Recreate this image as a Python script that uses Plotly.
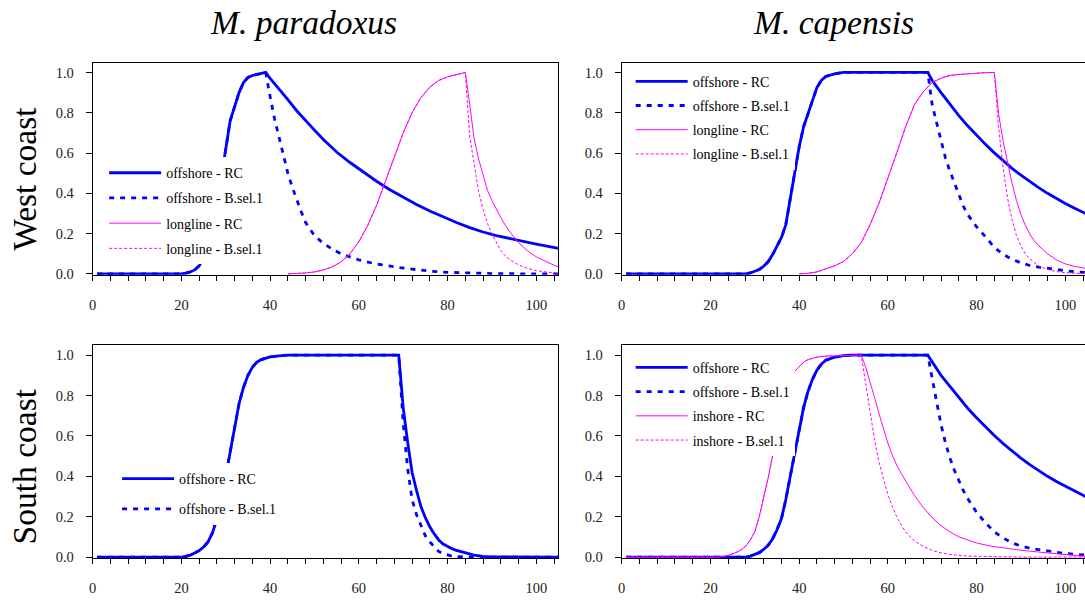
import plotly.graph_objects as go

# ---------------- data (age, selectivity) ----------------
# West coast, M. paradoxus
wp_off_rise_age = [1, 20, 21, 22, 23, 24, 25, 26, 27, 28, 29, 30, 31, 32, 33, 34, 35, 36, 37, 38, 39]
wp_off_rise = [0, 0, 0.004, 0.01, 0.02, 0.04, 0.08, 0.15, 0.25, 0.36, 0.48, 0.62, 0.76, 0.83, 0.9, 0.95, 0.975, 0.985, 0.99, 0.995, 1.0]
wp_off_rc_tail_age = [40, 42, 44, 46, 48, 50, 52, 55, 58, 61, 64, 67, 70, 73, 76, 79, 82, 85, 88, 91, 94, 97, 100, 103, 105]
wp_off_rc_tail = [0.97, 0.92, 0.865, 0.81, 0.76, 0.714, 0.667, 0.605, 0.553, 0.505, 0.46, 0.418, 0.38, 0.345, 0.312, 0.283, 0.255, 0.23, 0.208, 0.19, 0.175, 0.16, 0.148, 0.135, 0.127]
wp_off_b_tail_age = [40, 41, 42, 43, 44, 45, 46, 47, 48, 50, 52, 54, 56, 58, 60, 63, 66, 69, 72, 76, 80, 84, 90, 95, 105]
wp_off_b_tail = [0.88, 0.77, 0.68, 0.59, 0.5, 0.43, 0.365, 0.31, 0.255, 0.19, 0.152, 0.123, 0.1, 0.083, 0.07, 0.054, 0.042, 0.032, 0.024, 0.014, 0.008, 0.005, 0.002, 0.001, 0.0]
wp_ll_rise_age = [44, 46, 48, 50, 52, 54, 56, 58, 60, 62, 64, 66, 68, 70, 72, 74, 76, 78, 80, 82, 84]
wp_ll_rise = [0, 0.002, 0.005, 0.01, 0.02, 0.035, 0.06, 0.1, 0.16, 0.24, 0.34, 0.46, 0.58, 0.7, 0.8, 0.875, 0.927, 0.96, 0.978, 0.99, 1.0]
wp_ll_tail_age = [85, 86, 87, 88, 89, 90, 91, 92, 93, 94, 96, 98, 100, 102, 104, 105]
wp_ll_rc_tail = [0.84, 0.67, 0.57, 0.485, 0.415, 0.364, 0.32, 0.28, 0.242, 0.21, 0.155, 0.115, 0.085, 0.062, 0.043, 0.036]
wp_ll_b_tail = [0.68, 0.54, 0.41, 0.32, 0.25, 0.2, 0.155, 0.115, 0.09, 0.072, 0.045, 0.028, 0.016, 0.009, 0.005, 0.004]

# West coast, M. capensis
wc_off_rise_age = [1, 28, 29, 30, 31, 32, 33, 34, 35, 36, 37, 38, 39, 40, 41, 42, 43, 44, 45, 46, 48, 50, 69]
wc_off_rise = [0, 0, 0.005, 0.012, 0.022, 0.038, 0.06, 0.095, 0.135, 0.18, 0.245, 0.38, 0.5, 0.63, 0.73, 0.795, 0.865, 0.925, 0.96, 0.98, 0.993, 1.0, 1.0]
wc_off_rc_tail_age = [70, 72, 74, 76, 78, 80, 82, 84, 86, 88, 90, 92, 94, 96, 98, 100, 102, 104, 105]
wc_off_rc_tail = [0.96, 0.9, 0.842, 0.786, 0.735, 0.688, 0.643, 0.601, 0.561, 0.524, 0.49, 0.458, 0.428, 0.4, 0.374, 0.35, 0.327, 0.305, 0.295]
wc_off_b_tail_age = [70, 71, 72, 73, 74, 75, 76, 77, 78, 79, 80, 82, 84, 86, 88, 90, 92, 94, 96, 98, 100, 102, 104, 105]
wc_off_b_tail = [0.84, 0.75, 0.66, 0.575, 0.51, 0.45, 0.39, 0.337, 0.295, 0.262, 0.234, 0.185, 0.132, 0.097, 0.073, 0.055, 0.042, 0.034, 0.027, 0.021, 0.016, 0.011, 0.008, 0.007]
wc_ll_rise_age = [40, 42, 44, 46, 48, 50, 52, 54, 56, 58, 60, 62, 64, 66, 68, 70, 72, 74, 76, 78, 80, 82, 84]
wc_ll_rise = [0, 0.003, 0.01, 0.025, 0.04, 0.062, 0.1, 0.155, 0.245, 0.35, 0.47, 0.6, 0.73, 0.84, 0.905, 0.95, 0.972, 0.985, 0.99, 0.994, 0.997, 0.999, 1.0]
wc_ll_tail_age = [85, 86, 87, 88, 89, 90, 91, 92, 93, 94, 96, 98, 100, 102, 104, 105]
wc_ll_rc_tail = [0.79, 0.657, 0.545, 0.45, 0.364, 0.295, 0.242, 0.198, 0.165, 0.14, 0.1, 0.07, 0.05, 0.038, 0.03, 0.026]
wc_ll_b_tail = [0.72, 0.527, 0.375, 0.27, 0.19, 0.14, 0.1, 0.075, 0.055, 0.04, 0.022, 0.012, 0.006, 0.003, 0.001, 0.0]

# South coast, M. paradoxus
sp_off_rise_age = [1, 20, 21, 22, 23, 24, 25, 26, 27, 28, 29, 30, 31, 32, 33, 34, 35, 36, 37, 38, 39, 40, 42, 44, 69]
sp_off_rise = [0, 0, 0.004, 0.01, 0.02, 0.032, 0.05, 0.075, 0.12, 0.19, 0.28, 0.4, 0.53, 0.66, 0.76, 0.84, 0.9, 0.94, 0.965, 0.978, 0.986, 0.991, 0.996, 1.0, 1.0]
sp_off_tail_age = [70, 71, 72, 73, 74, 75, 76, 77, 78, 79, 80, 81, 82, 84, 86, 88, 90, 105]
sp_off_rc_tail = [0.74, 0.57, 0.42, 0.33, 0.25, 0.195, 0.15, 0.115, 0.085, 0.065, 0.052, 0.042, 0.033, 0.02, 0.01, 0.004, 0.001, 0.0]
sp_off_b_tail = [0.66, 0.44, 0.285, 0.21, 0.155, 0.105, 0.075, 0.05, 0.028, 0.017, 0.01, 0.005, 0.003, 0.0, 0.0, 0.0, 0.0, 0.0]

# South coast, M. capensis
sc_off_rise_age = [1, 28, 29, 30, 31, 32, 33, 34, 35, 36, 37, 38, 39, 40, 41, 42, 43, 44, 45, 46, 48, 50, 52, 69]
sc_off_rise = [0, 0, 0.005, 0.012, 0.022, 0.038, 0.058, 0.09, 0.135, 0.19, 0.285, 0.4, 0.515, 0.63, 0.74, 0.82, 0.88, 0.925, 0.955, 0.975, 0.99, 0.998, 1.0, 1.0]
sc_off_rc_tail_age = [70, 72, 74, 76, 78, 80, 82, 84, 86, 88, 90, 92, 94, 96, 98, 100, 102, 104, 105]
sc_off_rc_tail = [0.965, 0.9, 0.845, 0.79, 0.737, 0.69, 0.645, 0.602, 0.562, 0.525, 0.49, 0.458, 0.428, 0.4, 0.374, 0.35, 0.327, 0.306, 0.297]
sc_off_b_tail_age = [70, 71, 72, 73, 74, 75, 76, 77, 78, 79, 80, 82, 84, 86, 88, 90, 92, 94, 96, 98, 100, 102, 104, 105]
sc_off_b_tail = [0.88, 0.77, 0.655, 0.565, 0.49, 0.43, 0.375, 0.33, 0.29, 0.255, 0.222, 0.17, 0.125, 0.095, 0.07, 0.055, 0.044, 0.037, 0.03, 0.024, 0.018, 0.014, 0.011, 0.01]
sc_in_rise_age = [1, 22, 24, 25, 26, 27, 28, 29, 30, 31, 32, 33, 34, 35, 36, 37, 38, 39, 40, 41, 42, 44, 46, 50, 54]
sc_in_rise = [0, 0, 0.008, 0.015, 0.025, 0.037, 0.055, 0.085, 0.125, 0.2, 0.29, 0.39, 0.5, 0.62, 0.73, 0.82, 0.88, 0.92, 0.945, 0.965, 0.978, 0.99, 0.995, 0.998, 1.0]
sc_in_tail_age = [55, 56, 57, 58, 59, 60, 61, 62, 63, 64, 66, 68, 70, 72, 74, 76, 78, 80, 83, 86, 90, 94, 98, 102, 105]
sc_in_rc_tail = [0.94, 0.87, 0.79, 0.71, 0.635, 0.565, 0.505, 0.455, 0.415, 0.38, 0.305, 0.245, 0.195, 0.155, 0.125, 0.1, 0.085, 0.07, 0.055, 0.045, 0.034, 0.025, 0.016, 0.008, 0.003]
sc_in_b_tail = [0.86, 0.71, 0.58, 0.47, 0.385, 0.31, 0.25, 0.2, 0.16, 0.125, 0.08, 0.053, 0.033, 0.021, 0.013, 0.008, 0.005, 0.004, 0.002, 0.001, 0.0, 0.0, 0.0, 0.0, 0.0]

col_titles = ["M. paradoxus", "M. capensis"]
row_titles = ["West coast", "South coast"]
y_ticks = [0, 0.2, 0.4, 0.6, 0.8, 1.0]

BLUE = "#0000FF"
MAG = "#FF00FF"
SERIF = "Liberation Serif, Times New Roman, serif"

styles = {
    "off_rc": dict(color=BLUE, width=2.8, dash="solid"),
    "off_b": dict(color=BLUE, width=2.8, dash="5px,6px"),
    "mag_rc": dict(color=MAG, width=1, dash="solid"),
    "mag_b": dict(color=MAG, width=1, dash="3px,2px"),
}

panels = [
    ("x", "y", "legend", [
        ("offshore - RC", "off_rc", wp_off_rise_age + wp_off_rc_tail_age, wp_off_rise + wp_off_rc_tail),
        ("offshore - B.sel.1", "off_b", wp_off_rise_age + wp_off_b_tail_age, wp_off_rise + wp_off_b_tail),
        ("longline - RC", "mag_rc", wp_ll_rise_age + wp_ll_tail_age, wp_ll_rise + wp_ll_rc_tail),
        ("longline - B.sel.1", "mag_b", wp_ll_rise_age + wp_ll_tail_age, wp_ll_rise + wp_ll_b_tail),
    ]),
    ("x2", "y2", "legend2", [
        ("offshore - RC", "off_rc", wc_off_rise_age + wc_off_rc_tail_age, wc_off_rise + wc_off_rc_tail),
        ("offshore - B.sel.1", "off_b", wc_off_rise_age + wc_off_b_tail_age, wc_off_rise + wc_off_b_tail),
        ("longline - RC", "mag_rc", wc_ll_rise_age + wc_ll_tail_age, wc_ll_rise + wc_ll_rc_tail),
        ("longline - B.sel.1", "mag_b", wc_ll_rise_age + wc_ll_tail_age, wc_ll_rise + wc_ll_b_tail),
    ]),
    ("x3", "y3", "legend3", [
        ("offshore - RC", "off_rc", sp_off_rise_age + sp_off_tail_age, sp_off_rise + sp_off_rc_tail),
        ("offshore - B.sel.1", "off_b", sp_off_rise_age + sp_off_tail_age, sp_off_rise + sp_off_b_tail),
    ]),
    ("x4", "y4", "legend4", [
        ("offshore - RC", "off_rc", sc_off_rise_age + sc_off_rc_tail_age, sc_off_rise + sc_off_rc_tail),
        ("offshore - B.sel.1", "off_b", sc_off_rise_age + sc_off_b_tail_age, sc_off_rise + sc_off_b_tail),
        ("inshore - RC", "mag_rc", sc_in_rise_age + sc_in_tail_age, sc_in_rise + sc_in_rc_tail),
        ("inshore - B.sel.1", "mag_b", sc_in_rise_age + sc_in_tail_age, sc_in_rise + sc_in_b_tail),
    ]),
]

fig = go.Figure()
for pi, (xa, ya, leg, series) in enumerate(panels):
    for si, (name, sty, ages, vals) in enumerate(series):
        fig.add_trace(go.Scatter(
            x=ages, y=vals, mode="lines", name=name,
            line=styles[sty], xaxis=xa, yaxis=ya, legend=leg,
            legendgroup=f"p{pi}s{si}", showlegend=True, hoverinfo="skip"))

W, H = 1085, 600
left_dom = [89 / W, 556.5 / W]
right_dom = [620 / W, 1.0]
top_dom = [1 - 278 / H, 1 - 63.3 / H]
bot_dom = [1 - 564.5 / H, 1 - 349.3 / H]
YR = [-0.004, 1.049]

tickfont = dict(family=SERIF, size=14.5, color="#222222")


def xax(domain, anchor, rng):
    return dict(domain=domain, anchor=anchor, range=rng, showline=True, linecolor="black",
                linewidth=1, mirror=True, ticks="outside", ticklen=5, tickcolor="black",
                tick0=0, dtick=20, showgrid=False, zeroline=False, tickfont=tickfont,
                ticklabelstandoff=12,
                minor=dict(dtick=4, tick0=0, ticks="outside", ticklen=5, tickcolor="black",
                           showgrid=False))


def yax(domain, anchor, mirror):
    return dict(domain=domain, anchor=anchor, range=YR, showline=True, linecolor="black",
                linewidth=1, mirror=mirror, ticks="outside", ticklen=6, tickcolor="black",
                tickvals=y_ticks, tickformat=".1f", showgrid=False, zeroline=False,
                tickfont=tickfont, ticklabelstandoff=9)


def legend(xpx, ypx, gap):
    return dict(x=xpx / W, y=1 - ypx / H, xanchor="left", yanchor="top", bgcolor="white",
                borderwidth=0, font=dict(family=SERIF, size=14, color="black"),
                itemwidth=52, tracegroupgap=gap, traceorder="grouped")


annotations = [
    dict(text=f"<i>{col_titles[0]}</i>", x=301 / W, y=1 - 23 / H),
    dict(text=f"<i>{col_titles[1]}</i>", x=833 / W, y=1 - 23 / H),
    dict(text=row_titles[0], x=21 / W, y=1 - 181 / H, textangle=-90),
    dict(text=row_titles[1], x=21 / W, y=1 - 472 / H, textangle=-90),
]
for a in annotations:
    a.update(xref="paper", yref="paper", showarrow=False, xanchor="center", yanchor="middle",
             font=dict(family=SERIF, size=33.5, color="black"))

fig.update_layout(
    width=W, height=H, autosize=False,
    margin=dict(l=0, r=0, t=0, b=0, pad=0),
    paper_bgcolor="white", plot_bgcolor="white",
    xaxis=xax(left_dom, "y", [0, 105]),
    yaxis=yax(top_dom, "x", True),
    xaxis2=xax(right_dom, "y2", [0, 104.45]),
    yaxis2=yax(top_dom, "x2", False),
    xaxis3=xax(left_dom, "y3", [0, 105]),
    yaxis3=yax(bot_dom, "x3", True),
    xaxis4=xax(right_dom, "y4", [0, 104.45]),
    yaxis4=yax(bot_dom, "x4", False),
    legend=legend(100.5, 159, 4),
    legend2=legend(629, 66.5, 3),
    legend3=legend(113.5, 468.5, 9),
    legend4=legend(629, 356, 3),
    annotations=annotations,
    showlegend=True,
)

# remove the default page margin so the 1085x600 figure fills the window exactly
fig.write_html(
    "out.html",
    config={"displayModeBar": False},
    post_script="document.body.style.margin='0px';document.documentElement.style.overflow='hidden';",
)
